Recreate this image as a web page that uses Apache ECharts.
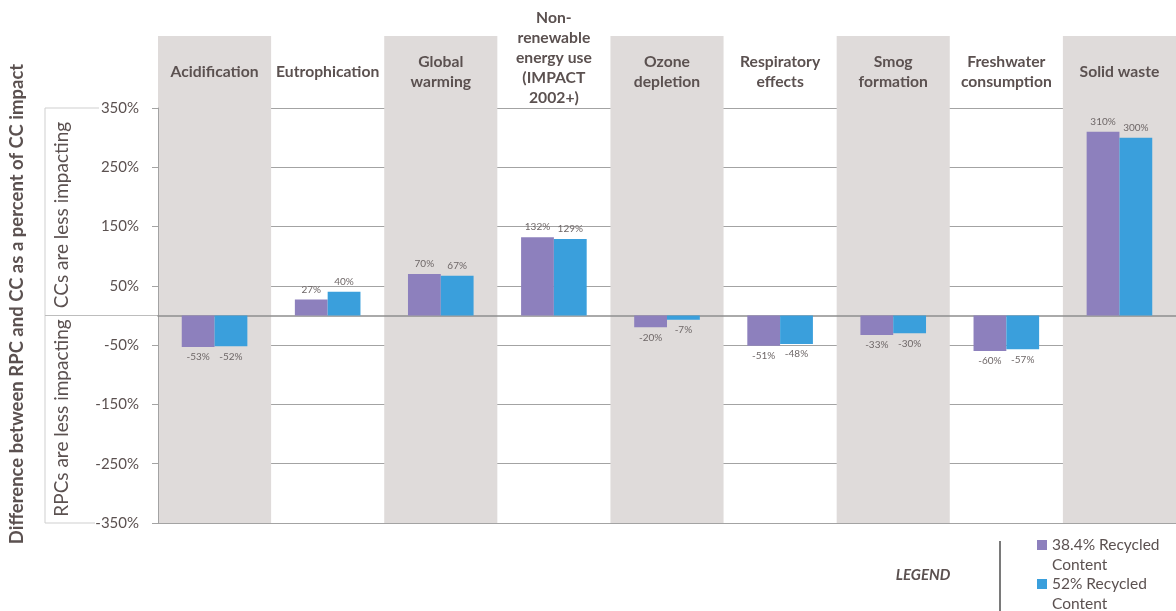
<!DOCTYPE html>
<html>
<head>
<meta charset="utf-8">
<script src="https://cdn.jsdelivr.net/npm/echarts@6/dist/echarts.min.js"></script>
<style>
  html, body { margin: 0; padding: 0; background: #fff; }
  #main { width: 1176px; height: 611px; }
</style>
</head>
<body>
<div id="main"></div>
<script>
// impact categories (top labels)
var categories = [
  "Acidification",
  "Eutrophication",
  "Global\nwarming",
  "Non-\nrenewable\nenergy use\n(IMPACT\n2002+)",
  "Ozone\ndepletion",
  "Respiratory\neffects",
  "Smog\nformation",
  "Freshwater\nconsumption",
  "Solid waste"
];
// % difference between RPC and CC
var recycled384 = [-53, 27, 70, 132, -20, -51, -33, -60, 310];
var recycled52 = [-52, 40, 67, 129, -7, -48, -30, -57, 300];
var seriesNames = ["38.4% Recycled\nContent", "52% Recycled\nContent"];
var yMin = -350, yMax = 350, yStep = 100;

var textColor = "#5b5150";
var bandColor = "#dfdbda";
var lineColor = "#a3a3a3";
var font = "Lato";

function barData(arr) {
  return arr.map(function (v) {
    return { value: v, label: { position: v < 0 ? "bottom" : "top" } };
  });
}

var myChart = echarts.init(document.getElementById("main"));
var option = {
  animation: false,
  textStyle: { fontFamily: font },
  color: ["#8d80bd", "#3a9fdc"],
  grid: [
    { left: 158, right: 0, top: 36, height: 72, outerBoundsMode: "none" },
    { left: 158, right: 0, top: 108, bottom: 88, outerBoundsMode: "none" }
  ],
  xAxis: [
    {
      type: "category",
      gridIndex: 0,
      position: "top",
      data: categories,
      axisLine: { show: false, onZero: false },
      axisTick: { show: false },
      splitArea: { show: true, areaStyle: { color: [bandColor, "rgba(255,255,255,0)"] } },
      axisLabel: {
        interval: 0,
        margin: -36,
        verticalAlign: "middle",
        color: textColor,
        fontWeight: "bold",
        fontSize: 15.7,
        lineHeight: 20,
        fontFamily: font,
        // the 5-line label sits higher: pad it with a taller blank last row
        formatter: function (v) {
          return v.split("\n").length > 4 ? v + "\n{gap| }" : v;
        },
        rich: { gap: { lineHeight: 28 } }
      }
    },
    {
      type: "category",
      gridIndex: 1,
      data: categories,
      axisLine: { onZero: true, lineStyle: { color: "#8f8f8f", width: 1.5 } },
      axisTick: { show: false },
      axisLabel: { show: false },
      splitArea: { show: true, areaStyle: { color: [bandColor, "rgba(255,255,255,0)"] } }
    }
  ],
  yAxis: [
    { type: "value", gridIndex: 0, min: 0, max: 1, show: false },
    {
      type: "value",
      gridIndex: 1,
      min: yMin,
      max: yMax,
      interval: yStep,
      axisLine: { show: true, lineStyle: { color: lineColor } },
      axisTick: { show: true, length: 6, lineStyle: { color: lineColor } },
      splitLine: { lineStyle: { color: lineColor, width: 1 } },
      axisLabel: {
        margin: 19,
        color: textColor,
        fontSize: 15,
        fontFamily: font,
        formatter: "{value}%"
      }
    }
  ],
  legend: {
    orient: "vertical",
    left: 1032,
    top: 510,
    height: 200,
    itemWidth: 10,
    itemHeight: 10,
    itemGap: -21,
    icon: "rect",
    data: seriesNames,
    // blank first line so the square lines up with the first text row
    formatter: function (name) {
      return "\n" + name;
    },
    textStyle: {
      color: textColor,
      fontSize: 15.5,
      lineHeight: 20,
      fontFamily: font
    }
  },
  graphic: [
    {
      type: "text",
      x: 17, y: 304, rotation: Math.PI / 2,
      style: {
        text: "Difference between RPC and CC as a percent of CC impact",
        fill: textColor, font: "bold 18.5px " + font,
        align: "center", verticalAlign: "middle"
      }
    },
    {
      type: "text",
      x: 62, y: 215, rotation: Math.PI / 2,
      style: {
        text: "CCs are less impacting",
        fill: textColor, font: "19px " + font,
        align: "center", verticalAlign: "middle"
      }
    },
    {
      type: "text",
      x: 62, y: 418, rotation: Math.PI / 2,
      style: {
        text: "RPCs are less impacting",
        fill: textColor, font: "19px " + font,
        align: "center", verticalAlign: "middle"
      }
    },
    { type: "line", shape: { x1: 45, y1: 108, x2: 99, y2: 108 }, style: { stroke: "#cfcfcf", lineWidth: 1 } },
    { type: "line", shape: { x1: 45, y1: 108, x2: 45, y2: 523 }, style: { stroke: "#cfcfcf", lineWidth: 1 } },
    { type: "line", shape: { x1: 45, y1: 523, x2: 95, y2: 523 }, style: { stroke: "#cfcfcf", lineWidth: 1 } },
    { type: "line", shape: { x1: 45, y1: 315.5, x2: 158, y2: 315.5 }, style: { stroke: "#bdbdbd", lineWidth: 1 } },
    { type: "line", shape: { x1: 1000, y1: 541, x2: 1000, y2: 611 }, style: { stroke: "#7a7a7a", lineWidth: 2 } },
    {
      type: "text",
      x: 923, y: 575,
      style: {
        text: "LEGEND", fill: textColor,
        font: "italic bold 15px " + font,
        align: "center", verticalAlign: "middle"
      }
    }
  ],
  series: [
    {
      name: seriesNames[0],
      type: "bar",
      xAxisIndex: 1,
      yAxisIndex: 1,
      barGap: "0%",
      barCategoryGap: "42%",
      data: barData(recycled384),
      label: { show: true, formatter: "{c}%", fontSize: 10, color: "#6e6767", distance: 5 }
    },
    {
      name: seriesNames[1],
      type: "bar",
      xAxisIndex: 1,
      yAxisIndex: 1,
      data: barData(recycled52),
      label: { show: true, formatter: "{c}%", fontSize: 10, color: "#6e6767", distance: 5 }
    }
  ]
};
myChart.setOption(option, true);
</script>
</body>
</html>
